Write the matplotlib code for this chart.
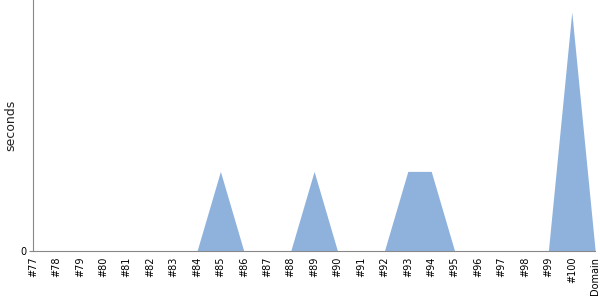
import matplotlib
matplotlib.use('Agg')
import matplotlib.pyplot as plt
import numpy as np

#categories along x and the time values (seconds)
labels = ['#'+str(i) for i in range(77,101)] + ['Domain']
values = [0,0,0,0,0,0,0,0,1,0,0,0,1,0,0,0,1,1,0,0,0,0,0,3,0]

fig = plt.figure(figsize=(6,3), dpi=100)
ax = fig.add_axes([0.055, 0.163, 0.937, 0.837])
x = np.arange(len(labels))
ax.fill_between(x, values, 0, color='#8fb2dc', linewidth=0)
ax.set_xlim(0, len(labels)-1)
ax.set_ylim(0, 3.15)
ax.set_xticks(x)
ax.set_xticklabels(labels, rotation=90, fontsize=7)
ax.set_yticks([0])
ax.set_yticklabels(['0'], fontsize=7)
ax.set_ylabel('seconds', fontsize=9, labelpad=2, color='#222222')
ax.tick_params(axis='x', length=0, pad=4)
ax.tick_params(axis='y', length=3, color='#888888', pad=2)
for s in ['top','right']:
    ax.spines[s].set_visible(False)
for s in ['left','bottom']:
    ax.spines[s].set_color('#888888')
fig.savefig('out.png')
